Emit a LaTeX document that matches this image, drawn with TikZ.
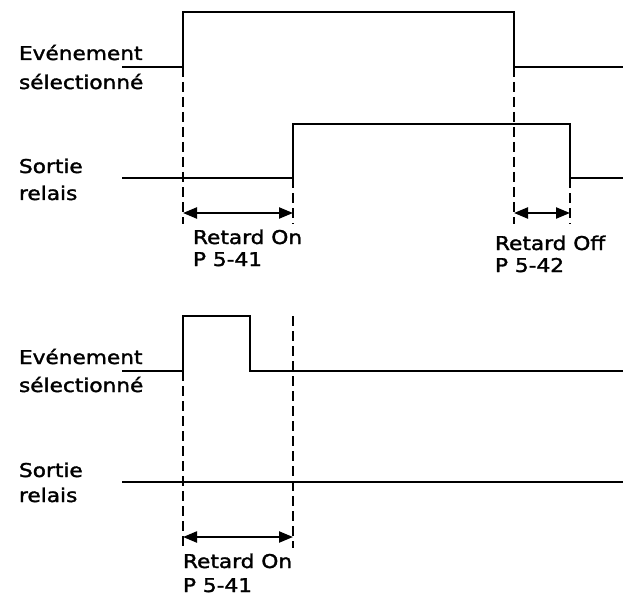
\documentclass[tikz,border=0pt]{standalone}
\usepackage{fontspec}
\usepackage{graphicx}
\setmainfont[FakeBold=1.6]{DejaVu Sans}
\usetikzlibrary{arrows.meta}
\newcommand{\lbl}[1]{\scalebox{1.14}[1]{#1}}
\tikzset{
  sig/.style={line width=2.6pt, line join=miter},
  guide/.style={line width=2.2pt, dash pattern=on 10pt off 5pt},
  span/.style={line width=2.2pt, {Triangle[length=14pt,width=11pt]}-{Triangle[length=14pt,width=11pt]}},
  txt/.style={anchor=base west, inner sep=0pt, outer sep=0pt, font=\fontsize{19}{22}\selectfont}
}
\begin{document}
\begin{tikzpicture}[x=1pt,y=-1pt]
\useasboundingbox (0,0) rectangle (623,596);
% ---------- top diagram ----------
\coordinate (a0) at (122,67);
\coordinate (a1) at (183,67);
\coordinate (a2) at (183,12);
\coordinate (a3) at (514,12);
\coordinate (a4) at (514,67);
\coordinate (a5) at (623,67);
\draw[sig] (a0) -- (a1) -- (a2) -- (a3) -- (a4) -- (a5);
\coordinate (b0) at (122,178);
\coordinate (b1) at (293,178);
\coordinate (b2) at (293,124);
\coordinate (b3) at (570,124);
\coordinate (b4) at (570,178);
\coordinate (b5) at (623,178);
\draw[sig] (b0) -- (b1) -- (b2) -- (b3) -- (b4) -- (b5);
\coordinate (d1) at (183,224);
\coordinate (d2) at (293,224);
\coordinate (d3) at (514,224);
\coordinate (d4) at (570,224);
\draw[guide] (a1) -- (d1);
\draw[guide] (b1) -- (d2);
\draw[guide] (a4) -- (d3);
\draw[guide] (b4) -- (d4);
\coordinate (p1) at (183,213);
\coordinate (p2) at (293,213);
\coordinate (p3) at (514,213);
\coordinate (p4) at (570,213);
\draw[span] (p1) -- (p2);
\draw[span] (p3) -- (p4);
\node[txt] (t1) at (19,60) {\lbl{Evénement}};
\node[txt] (t2) at (19,89) {\lbl{sélectionné}};
\node[txt] (t3) at (19,173) {\lbl{Sortie}};
\node[txt] (t4) at (19,200) {\lbl{relais}};
\node[txt] (t5) at (193,244) {\lbl{Retard On}};
\node[txt] (t6) at (193,266) {\lbl{P 5-41}};
\node[txt] (t7) at (495,250) {\lbl{Retard Off}};
\node[txt] (t8) at (495,272) {\lbl{P 5-42}};
% ---------- bottom diagram ----------
\coordinate (c0) at (122,371);
\coordinate (c1) at (183,371);
\coordinate (c2) at (183,316);
\coordinate (c3) at (250,316);
\coordinate (c4) at (250,371);
\coordinate (c5) at (623,371);
\draw[sig] (c0) -- (c1) -- (c2) -- (c3) -- (c4) -- (c5);
\coordinate (e0) at (122,482);
\coordinate (e1) at (623,482);
\draw[sig] (e0) -- (e1);
\coordinate (f0) at (293,316);
\coordinate (f1) at (183,548);
\coordinate (f2) at (293,548);
\draw[guide] (c1) -- (f1);
\draw[guide] (f0) -- (f2);
\coordinate (q1) at (183,537);
\coordinate (q2) at (293,537);
\draw[span] (q1) -- (q2);
\node[txt] (u1) at (19,364) {\lbl{Evénement}};
\node[txt] (u2) at (19,392) {\lbl{sélectionné}};
\node[txt] (u3) at (19,477) {\lbl{Sortie}};
\node[txt] (u4) at (19,502) {\lbl{relais}};
\node[txt] (u5) at (183,568) {\lbl{Retard On}};
\node[txt] (u6) at (183,592) {\lbl{P 5-41}};
\end{tikzpicture}
\end{document}
